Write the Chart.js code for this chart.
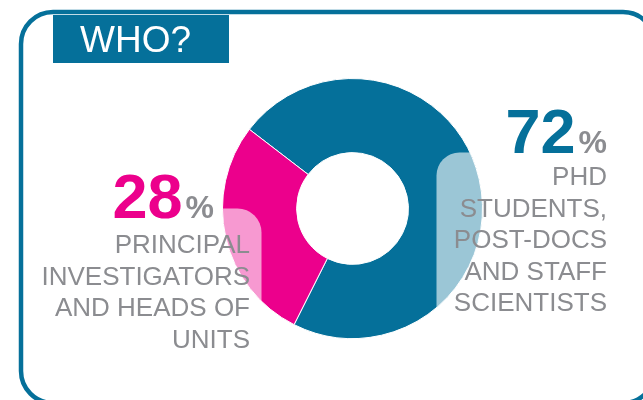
<!DOCTYPE html>
<html>
<head>
<meta charset="utf-8">
<script src="https://cdn.jsdelivr.net/npm/chart.js@4"></script>
<style>
    body { margin: 0; background: #ffffff; }
    #wrap { width: 643px; height: 400px; position: relative; }
</style>
</head>
<body>
<div id="wrap"><canvas id="whoChart" width="643" height="400"></canvas></div>
<script>
const categories = ['PhD students, post-docs and staff scientists', 'Principal investigators and heads of units'];
const shares = [72, 28];
const shareLabels = ['72', '28'];
const sliceColours = ['#05709a', '#ec008c'];
const rightLines = ['PHD', 'STUDENTS,', 'POST-DOCS', 'AND STAFF', 'SCIENTISTS'];
const leftLines = ['PRINCIPAL', 'INVESTIGATORS', 'AND HEADS OF', 'UNITS'];
const titleText = 'WHO?';

const FONT = '"Liberation Sans", Arial, Helvetica, sans-serif';
const BLUE = '#05709a';
const GREY = '#8b8c90';

function roundRect(ctx, x, y, w, h, r) {
    ctx.beginPath();
    ctx.moveTo(x + r, y);
    ctx.lineTo(x + w - r, y);
    ctx.arcTo(x + w, y, x + w, y + r, r);
    ctx.lineTo(x + w, y + h - r);
    ctx.arcTo(x + w, y + h, x + w - r, y + h, r);
    ctx.lineTo(x + r, y + h);
    ctx.arcTo(x, y + h, x, y + h - r, r);
    ctx.lineTo(x, y + r);
    ctx.arcTo(x, y, x + r, y, r);
    ctx.closePath();
}

const framePlugin = {
    id: 'frame',
    beforeDraw(chart) {
        const ctx = chart.ctx;
        ctx.save();
        // rounded frame
        ctx.strokeStyle = BLUE;
        ctx.lineWidth = 4.5;
        roundRect(ctx, 21, 12, 634, 391, 32);
        ctx.stroke();
        // title box
        ctx.fillStyle = BLUE;
        ctx.fillRect(53, 15, 176, 48);
        ctx.fillStyle = '#ffffff';
        ctx.font = '37px ' + FONT;
        ctx.textBaseline = 'alphabetic';
        ctx.textAlign = 'left';
        ctx.fillText(titleText, 80, 52);
        ctx.restore();
    },
    afterDatasetsDraw(chart) {
        const ctx = chart.ctx;
        const arc = chart.getDatasetMeta(0).data[0];
        const cx = arc.x, cy = arc.y;
        const rOut = arc.outerRadius, rIn = arc.innerRadius;

        // lighter text boxes where they overlap the ring
        ctx.save();
        ctx.beginPath();
        ctx.arc(cx, cy, rOut, 0, Math.PI * 2);
        ctx.arc(cx, cy, rIn, 0, Math.PI * 2, true);
        ctx.clip();
        ctx.fillStyle = 'rgba(255,255,255,0.6)';
        roundRect(ctx, cx + 84, cy - 56, 200, 260, 23);
        ctx.fill();
        roundRect(ctx, cx - 320, cy, 229, 260, 24);
        ctx.fill();
        ctx.restore();

        ctx.save();
        ctx.textBaseline = 'alphabetic';
        // right block
        const rightX = 607;
        ctx.font = 'bold 32px ' + FONT;
        const pctW = ctx.measureText('%').width;
        ctx.fillStyle = GREY;
        ctx.textAlign = 'right';
        ctx.fillText('%', rightX, 153);
        ctx.font = 'bold 63px ' + FONT;
        ctx.fillStyle = sliceColours[0];
        ctx.fillText(shareLabels[0], rightX - pctW - 3, 153);

        ctx.font = '26px ' + FONT;
        ctx.fillStyle = GREY;
        rightLines.forEach((line, i) => {
            ctx.fillText(line, rightX, 185 + i * 31.5);
        });

        // left block
        ctx.font = 'bold 32px ' + FONT;
        ctx.fillStyle = GREY;
        ctx.fillText('%', 214, 218);
        ctx.font = 'bold 63px ' + FONT;
        ctx.fillStyle = sliceColours[1];
        ctx.fillText(shareLabels[1], 214 - pctW - 3, 218);

        ctx.font = '26px ' + FONT;
        ctx.fillStyle = GREY;
        leftLines.forEach((line, i) => {
            ctx.fillText(line, 250, 253 + i * 31.7);
        });
        ctx.restore();
    }
};

const ctx = document.getElementById('whoChart').getContext('2d');
new Chart(ctx, {
    type: 'doughnut',
    data: {
        labels: categories,
        datasets: [{
            data: shares,
            backgroundColor: sliceColours,
            borderColor: '#ffffff',
            borderWidth: 1,
            hoverOffset: 0
        }]
    },
    options: {
        responsive: false,
        devicePixelRatio: 1,
        animation: false,
        cutout: '43%',
        rotation: -52.5,
        layout: {
            padding: { left: 222, right: 160, top: 78, bottom: 61 }
        },
        plugins: {
            legend: { display: false },
            tooltip: { enabled: false }
        }
    },
    plugins: [framePlugin]
});
</script>
</body>
</html>
